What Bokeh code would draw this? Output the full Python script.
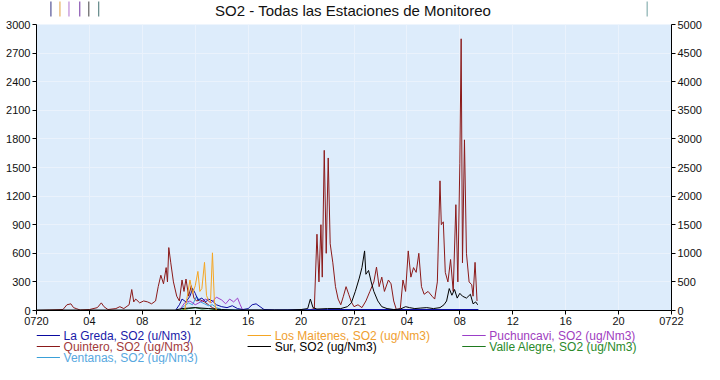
from bokeh.plotting import figure
from bokeh.models import (Range1d, LinearAxis, FixedTicker, ColumnDataSource)
from bokeh.layouts import column
from bokeh.core.properties import value
from bokeh.embed import file_html
from bokeh.resources import INLINE

FONT = "Liberation Sans"

# ---------------- data (hours since 07/20 00:00, SO2 values) ----------------
x_tick_hours = [0, 4, 8, 12, 16, 20, 24, 28, 32, 36, 40, 44, 48]
x_tick_labels = ["0720", "04", "08", "12", "16", "20", "0721", "04", "08", "12", "16", "20", "0722"]

quintero_h = [0, 1.0, 2.0, 2.3, 2.6, 2.8, 3.0, 3.3, 4.0, 4.6, 4.9, 5.1, 5.4, 6.0, 6.3, 6.6,
              7.0, 7.2, 7.35, 7.5, 7.8, 8.1, 8.4, 8.7, 9.0, 9.2, 9.4, 9.6, 9.8, 9.9, 10.0,
              10.15, 10.35, 10.6, 10.8, 11.0, 11.15, 11.3, 11.5, 11.7, 11.9, 12.1, 12.4,
              12.7, 13.0, 13.3, 13.6, 14.0, 15.0, 18.0, 20.5, 21.0, 21.2, 21.35, 21.5,
              21.6, 21.75, 21.9, 22.05, 22.2, 22.4, 22.6, 22.8, 23.0, 23.2, 23.4, 23.6,
              23.8, 24.0, 24.3, 24.6, 24.9, 25.2, 25.5, 25.7, 25.9, 26.1, 26.3, 26.6,
              26.8, 27.0, 27.2, 27.5, 27.7, 27.9, 28.1, 28.3, 28.5, 28.7, 28.9, 29.1,
              29.3, 29.6, 29.9, 30.1, 30.3, 30.5, 30.6, 30.75, 30.9, 31.1, 31.3, 31.5,
              31.7, 31.85, 32.0, 32.1, 32.2, 32.35, 32.5, 32.7, 32.9, 33.0, 33.15, 33.3]
quintero_v = [0, 5, 10, 60, 70, 30, 20, 5, 10, 30, 80, 40, 10, 20, 40, 20,
              60, 220, 90, 120, 80, 100, 90, 70, 100, 250, 370, 280, 450, 300, 660,
              500, 300, 150, 100, 320, 200, 330, 150, 260, 130, 100, 110,
              90, 60, 30, 10, 5, 5, 5, 0, 20, 800, 300, 900,
              350, 1680, 600, 1600, 700, 500, 250, 120, 60, 150, 250, 170,
              90, 40, 60, 30, 100, 200, 300, 455, 250, 350, 200, 320,
              280, 100, 10, 20, 320, 200, 625, 350, 450, 400, 600, 250,
              170, 200, 150, 120, 300, 1360, 900, 930, 400, 300, 535, 200,
              1110, 300, 1545, 2850, 500, 1790, 600, 300, 270, 150, 505, 100]

sur_h = [0, 10.5, 11, 12, 13, 14, 15, 16, 17, 18, 19, 20, 20.5, 20.7, 20.9, 21.2, 22, 23,
         23.5, 23.8, 24.1, 24.4, 24.6, 24.8, 24.9, 25.1, 25.3, 25.5, 25.8, 26.1, 26.5, 27,
         27.5, 27.9, 28.2, 28.6, 29, 29.5, 30, 30.5, 30.8, 31.0, 31.2, 31.4, 31.6, 31.8,
         32.0, 32.2, 32.5, 32.8, 33.0, 33.2, 33.35]
sur_v = [5, 5, 20, 30, 20, 10, 5, 5, 5, 5, 5, 10, 20, 120, 30, 15, 20, 20,
         40, 80, 200, 340, 450, 625, 380, 420, 300, 200, 100, 40, 20, 10,
         15, 40, 30, 20, 25, 30, 20, 30, 60, 100, 230, 160, 220, 130,
         180, 150, 130, 170, 70, 90, 60]

maitenes_h = [11.2, 11.4, 11.6, 11.8, 12.0, 12.2, 12.35, 12.5, 12.7, 12.85, 13.0, 13.15, 13.3, 13.45, 13.6]
maitenes_v = [0, 150, 320, 180, 260, 410, 200, 230, 505, 160, 100, 80, 605, 90, 0]

greda_h = [0, 10.5, 10.8, 11.0, 11.3, 11.6, 11.8, 12.0, 12.2, 12.5, 12.8, 13.0, 13.3, 13.6,
           14.0, 14.4, 14.8, 15.2, 15.6, 16.0, 16.3, 16.6, 16.9, 17.2, 18, 22, 33.4]
greda_v = [0, 0, 60, 120, 90, 150, 230, 180, 110, 130, 90, 120, 100, 60,
           40, 30, 50, 20, 10, 20, 60, 70, 40, 10, 5, 10, 10]

puchuncavi_h = [10.8, 11.2, 11.6, 12.0, 12.4, 12.8, 13.2, 13.6, 14.0, 14.3, 14.6, 14.9, 15.2, 15.4, 15.6]
puchuncavi_v = [0, 80, 100, 60, 90, 120, 80, 140, 110, 70, 120, 90, 130, 60, 0]

ventanas_h = [10.8, 11.2, 11.5, 11.8, 12.1, 12.4, 12.7, 13.0, 13.3, 13.6, 14.0, 16, 20, 33.4]
ventanas_v = [0, 50, 80, 60, 150, 90, 70, 50, 60, 30, 10, 5, 5, 5]

valle_h = [10.8, 11.5, 12, 12.5, 13, 13.5, 14]
valle_v = [0, 20, 30, 15, 20, 10, 0]

legend_labels = ["La Greda, SO2 (u/Nm3)", "Los Maitenes, SO2 (ug/Nm3)", "Puchuncavi, SO2 (ug/Nm3)",
                 "Quintero, SO2 (ug/Nm3)", "Sur, SO2 (ug/Nm3)", "Valle Alegre, SO2 (ug/Nm3)",
                 "Ventanas, SO2 (ug/Nm3)"]
line_colors = ["#0a0aa0", "#f5a623", "#9b3fc8", "#8b1a1a", "#000000", "#1f7a1f", "#3aa0d8"]
text_colors = ["#1a1aa8", "#f0a030", "#a040c0", "#a23a3a", "#000000", "#2a8a2a", "#58a8e0"]

# ---------------- header (title + small marks) ----------------
W = 704
hdr = figure(width=W, height=18, x_range=Range1d(0, W), y_range=Range1d(18, 0),
             output_backend="svg", toolbar_location=None, min_border=0,
             x_axis_location=None, y_axis_location=None, outline_line_color=None)
hdr.grid.visible = False
mark_x = [16, 26, 36, 48, 58, 69, 677]
mark_c = ["#303080", "#e0a040", "#b070d0", "#7030a0", "#404040", "#407070", "#70a0a0"]
hdr.segment(x0=mark_x, x1=mark_x, y0=[1] * 7, y1=[16] * 7, color=mark_c, line_width=1)
hdr.text(x=[351], y=[10], text=["SO2 - Todas las Estaciones de Monitoreo"],
         text_font=value(FONT), text_font_size="15px", text_align="center",
         text_baseline="middle", text_color="#111111")

# ---------------- main chart ----------------
p = figure(width=W, height=310, x_range=Range1d(0, 48), y_range=Range1d(0, 3000),
           output_backend="svg", toolbar_location=None,
           min_border_left=36, min_border_right=32, min_border_top=6, min_border_bottom=18,
           background_fill_color="#ddecfb", outline_line_color=None)
p.extra_y_ranges = {"right": Range1d(0, 5000)}

series = [
    (quintero_h, quintero_v, line_colors[3]),
    (ventanas_h, ventanas_v, line_colors[6]),
    (valle_h, valle_v, line_colors[5]),
    (puchuncavi_h, puchuncavi_v, line_colors[2]),
    (greda_h, greda_v, line_colors[0]),
    (sur_h, sur_v, line_colors[4]),
    (maitenes_h, maitenes_v, line_colors[1]),
]
for hx, vy, col in series:
    p.line(hx, vy, line_color=col, line_width=1)

p.xaxis.ticker = FixedTicker(ticks=x_tick_hours)
p.xaxis.major_label_overrides = {h: lab for h, lab in zip(x_tick_hours, x_tick_labels)}
p.yaxis.ticker = FixedTicker(ticks=list(range(0, 3001, 300)))

right = LinearAxis(y_range_name="right", ticker=FixedTicker(ticks=list(range(0, 5001, 500))))
p.add_layout(right, "right")

for ax in [p.xaxis[0], p.yaxis[0], right]:
    ax.major_label_text_font = FONT
    ax.major_label_text_font_size = "11px"
    ax.major_label_text_color = "#111111"
    ax.axis_line_color = "#000000"
    ax.major_tick_line_color = "#000000"
    ax.major_tick_out = 4
    ax.major_tick_in = 0
    ax.minor_tick_out = 0
    ax.minor_tick_in = 0
    ax.major_label_standoff = 2

p.xgrid.grid_line_color = "#eaf2fc"
p.ygrid.grid_line_color = "#eaf2fc"
p.xgrid.ticker = FixedTicker(ticks=x_tick_hours)
p.ygrid.ticker = FixedTicker(ticks=list(range(0, 3001, 300)))

# ---------------- legend (3 columns) ----------------
leg = figure(width=W, height=36, x_range=Range1d(0, W), y_range=Range1d(36, 0),
             output_backend="svg", toolbar_location=None, min_border=0,
             x_axis_location=None, y_axis_location=None, outline_line_color=None)
leg.grid.visible = False
col_x = [0, 234, 472]
row_y = [7, 18, 29]
lx0, lx1, tx, ty = [], [], [], []
for i in range(len(legend_labels)):
    c, r = i % 3, i // 3
    lx0.append(col_x[c])
    lx1.append(col_x[c] + 26)
    tx.append(col_x[c] + 30)
    ty.append(row_y[r])
leg.segment(x0=lx0, x1=lx1, y0=ty, y1=ty, color=line_colors, line_width=1)
leg.text(x=tx, y=ty, text=legend_labels, text_color=text_colors,
         text_font=value(FONT), text_font_size="12px", text_baseline="middle")

layout = column(hdr, p, leg, spacing=0)
open("out.html", "w").write(file_html(layout, INLINE))
